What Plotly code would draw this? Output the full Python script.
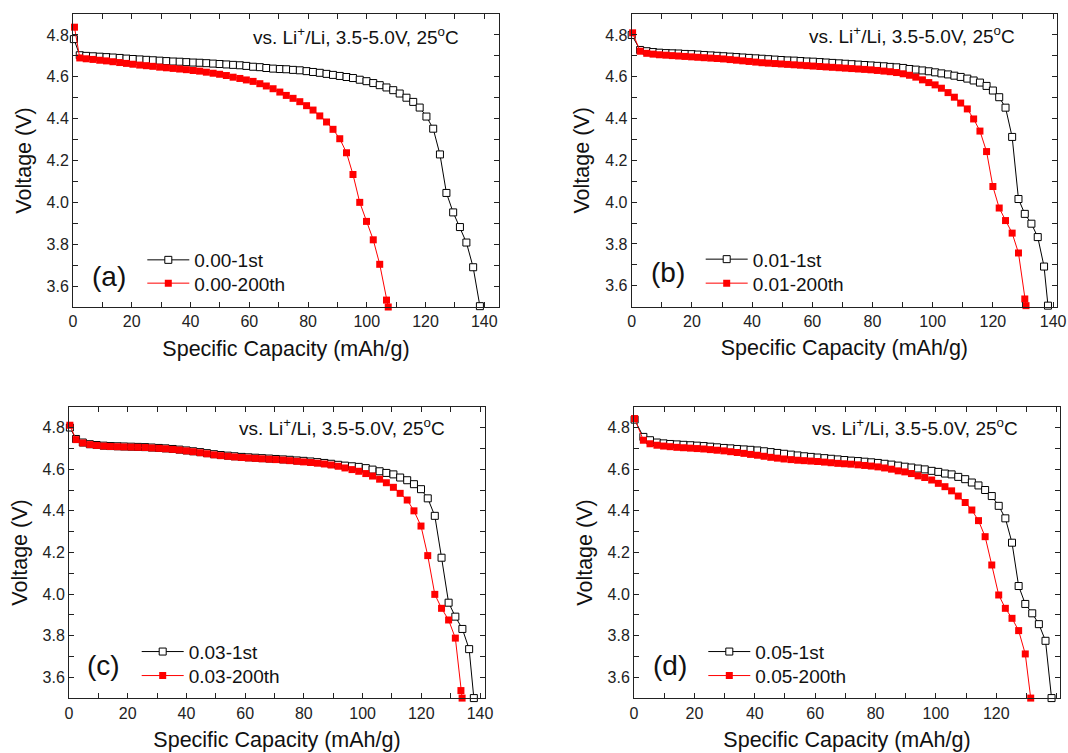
import plotly.graph_objects as go

# ---------------- data ----------------
# (a) x = 0.00
a_1st_x = [0.3, 2.3, 4.5, 6.8, 9.1, 11.4, 13.6, 15.9, 18.2, 20.4, 22.7, 25.0, 27.2, 29.5, 31.8, 34.1, 36.3, 38.6, 40.9, 43.1,
           45.4, 47.7, 49.9, 52.2, 54.5, 56.8, 59.0, 61.3, 63.6, 65.8, 68.1, 70.4, 72.6, 74.9, 77.2, 79.5, 81.7, 84.0, 86.3, 88.5,
           90.8, 93.1, 95.3, 97.6, 99.9, 102.2, 104.4, 106.7, 109.0, 111.2, 113.5, 115.8, 118.0, 120.3, 122.6, 124.9, 127.1,
           129.4, 131.7, 133.9, 136.2, 138.5]
a_1st_y = [4.780, 4.703, 4.700, 4.698, 4.696, 4.694, 4.692, 4.690, 4.687, 4.685, 4.683, 4.681, 4.679, 4.677, 4.675, 4.673,
           4.672, 4.670, 4.668, 4.667, 4.665, 4.663, 4.661, 4.659, 4.657, 4.655, 4.652, 4.648, 4.646, 4.642, 4.639, 4.637,
           4.636, 4.633, 4.631, 4.627, 4.623, 4.619, 4.614, 4.609, 4.604, 4.599, 4.594, 4.586, 4.579, 4.570, 4.560, 4.549,
           4.536, 4.520, 4.500, 4.480, 4.453, 4.410, 4.352, 4.229, 4.045, 3.952, 3.882, 3.808, 3.690, 3.504]
a_200_x = [0.5, 2.3, 4.5, 6.8, 9.1, 11.4, 13.6, 15.9, 18.2, 20.4, 22.7, 25.0, 27.2, 29.5, 31.8, 34.1, 36.3, 38.6, 40.9, 43.1,
           45.4, 47.7, 49.9, 52.2, 54.5, 56.8, 59.0, 61.3, 63.6, 65.8, 68.1, 70.4, 72.6, 74.9, 77.2, 79.5, 81.7, 84.0, 86.3, 88.5,
           90.8, 93.1, 95.3, 97.6, 99.9, 102.2, 104.4, 106.7, 107.3]
a_200_y = [4.837, 4.690, 4.686, 4.683, 4.679, 4.676, 4.672, 4.668, 4.664, 4.660, 4.656, 4.653, 4.650, 4.646, 4.643, 4.640,
           4.637, 4.634, 4.630, 4.627, 4.622, 4.617, 4.612, 4.606, 4.598, 4.592, 4.585, 4.578, 4.567, 4.556, 4.543, 4.527,
           4.511, 4.497, 4.481, 4.462, 4.441, 4.413, 4.384, 4.349, 4.304, 4.237, 4.133, 4.000, 3.909, 3.821, 3.704, 3.533, 3.500]

# (b) x = 0.01
b_1st_x = [0.0, 2.8, 5.0, 7.1, 9.2, 11.4, 13.5, 15.6, 17.7, 19.9, 22.0, 24.1, 26.3, 28.4, 30.5, 32.7, 34.8, 36.9, 39.0, 41.2,
           43.3, 45.4, 47.6, 49.7, 51.8, 54.0, 56.1, 58.2, 60.3, 62.5, 64.6, 66.7, 68.9, 71.0, 73.1, 75.3, 77.4, 79.5, 81.6, 83.8,
           85.9, 88.0, 90.2, 92.3, 94.4, 96.6, 98.7, 100.8, 102.9, 105.1, 107.2, 109.3, 111.5, 113.6, 115.7, 117.9, 120.0,
           122.1, 124.2, 126.4, 128.5, 130.6, 132.8, 134.9, 137.0, 138.3]
b_1st_y = [4.800, 4.728, 4.722, 4.718, 4.715, 4.713, 4.712, 4.711, 4.709, 4.708, 4.706, 4.704, 4.702, 4.700, 4.698, 4.696,
           4.694, 4.692, 4.690, 4.688, 4.686, 4.684, 4.682, 4.680, 4.678, 4.677, 4.675, 4.673, 4.672, 4.670, 4.668, 4.666,
           4.664, 4.662, 4.660, 4.658, 4.656, 4.654, 4.652, 4.650, 4.647, 4.645, 4.642, 4.637, 4.634, 4.630, 4.626, 4.621,
           4.616, 4.611, 4.605, 4.599, 4.591, 4.582, 4.572, 4.556, 4.534, 4.502, 4.452, 4.312, 4.015, 3.944, 3.897, 3.833,
           3.692, 3.505]
b_200_x = [0.3, 2.8, 5.0, 7.1, 9.2, 11.4, 13.5, 15.6, 17.7, 19.9, 22.0, 24.1, 26.3, 28.4, 30.5, 32.7, 34.8, 36.9, 39.0, 41.2,
           43.3, 45.4, 47.6, 49.7, 51.8, 54.0, 56.1, 58.2, 60.3, 62.5, 64.6, 66.7, 68.9, 71.0, 73.1, 75.3, 77.4, 79.5, 81.6, 83.8,
           85.9, 88.0, 90.2, 92.3, 94.4, 96.6, 98.7, 100.8, 102.9, 105.1, 107.2, 109.3, 111.5, 113.6, 115.7, 117.9, 120.0,
           122.1, 124.2, 126.4, 128.5, 130.6, 131.0]
b_200_y = [4.810, 4.722, 4.712, 4.708, 4.705, 4.703, 4.701, 4.699, 4.697, 4.695, 4.693, 4.691, 4.689, 4.687, 4.685, 4.682,
           4.679, 4.676, 4.673, 4.670, 4.667, 4.665, 4.663, 4.661, 4.659, 4.657, 4.655, 4.653, 4.651, 4.649, 4.647, 4.645,
           4.643, 4.641, 4.639, 4.637, 4.635, 4.633, 4.630, 4.627, 4.624, 4.620, 4.614, 4.607, 4.598, 4.585, 4.572, 4.561,
           4.545, 4.524, 4.502, 4.474, 4.446, 4.398, 4.340, 4.242, 4.075, 3.972, 3.912, 3.852, 3.757, 3.537, 3.505]

# (c) x = 0.03
c_1st_x = [0.3, 2.4, 4.7, 7.1, 9.4, 11.8, 14.1, 16.5, 18.8, 21.2, 23.5, 25.9, 28.2, 30.6, 32.9, 35.3, 37.6, 40.0, 42.3, 44.7,
           47.0, 49.4, 51.7, 54.1, 56.4, 58.8, 61.1, 63.5, 65.8, 68.2, 70.5, 72.9, 75.2, 77.6, 79.9, 82.3, 84.6, 87.0, 89.3, 91.7,
           94.0, 96.4, 98.7, 101.1, 103.4, 105.8, 108.1, 110.5, 112.8, 115.2, 117.5, 119.9, 122.2, 124.6, 126.9, 129.3, 131.6,
           134.0, 136.3, 137.9]
c_1st_y = [4.800, 4.745, 4.728, 4.720, 4.716, 4.713, 4.711, 4.710, 4.709, 4.708, 4.707, 4.706, 4.704, 4.702, 4.700, 4.697,
           4.694, 4.690, 4.686, 4.682, 4.677, 4.672, 4.668, 4.665, 4.662, 4.659, 4.657, 4.655, 4.653, 4.651, 4.649, 4.647,
           4.645, 4.642, 4.640, 4.637, 4.634, 4.630, 4.626, 4.621, 4.617, 4.614, 4.611, 4.605, 4.598, 4.590, 4.582, 4.575,
           4.560, 4.547, 4.528, 4.504, 4.460, 4.376, 4.175, 3.959, 3.892, 3.833, 3.736, 3.501]
c_200_x = [0.3, 2.4, 4.7, 7.1, 9.4, 11.8, 14.1, 16.5, 18.8, 21.2, 23.5, 25.9, 28.2, 30.6, 32.9, 35.3, 37.6, 40.0, 42.3, 44.7,
           47.0, 49.4, 51.7, 54.1, 56.4, 58.8, 61.1, 63.5, 65.8, 68.2, 70.5, 72.9, 75.2, 77.6, 79.9, 82.3, 84.6, 87.0, 89.3, 91.7,
           94.0, 96.4, 98.7, 101.1, 103.4, 105.8, 108.1, 110.5, 112.8, 115.2, 117.5, 119.9, 122.2, 124.6, 126.9, 129.3, 131.6,
           133.5, 133.9]
c_200_y = [4.811, 4.742, 4.726, 4.718, 4.714, 4.711, 4.709, 4.708, 4.707, 4.706, 4.705, 4.704, 4.702, 4.700, 4.698, 4.695,
           4.692, 4.688, 4.684, 4.679, 4.674, 4.669, 4.665, 4.662, 4.659, 4.656, 4.654, 4.652, 4.650, 4.648, 4.646, 4.644,
           4.641, 4.638, 4.635, 4.632, 4.629, 4.625, 4.620, 4.614, 4.606, 4.598, 4.590, 4.579, 4.567, 4.552, 4.535, 4.513,
           4.484, 4.452, 4.400, 4.327, 4.185, 3.999, 3.932, 3.876, 3.789, 3.537, 3.501]

# (d) x = 0.05
d_1st_x = [0.2, 3.1, 5.3, 7.6, 9.8, 12.0, 14.2, 16.4, 18.7, 20.9, 23.1, 25.3, 27.5, 29.8, 32.0, 34.2, 36.4, 38.6, 40.9, 43.1,
           45.3, 47.5, 49.7, 52.0, 54.2, 56.4, 58.6, 60.8, 63.1, 65.3, 67.5, 69.7, 71.9, 74.2, 76.4, 78.6, 80.8, 83.0, 85.3, 87.5,
           89.7, 91.9, 94.1, 96.3, 98.6, 100.8, 103.0, 105.2, 107.4, 109.7, 111.9, 114.1, 116.3, 118.5, 120.8, 123.0, 125.2,
           127.4, 129.6, 131.9, 134.1, 136.3, 138.3]
d_1st_y = [4.838, 4.755, 4.739, 4.728, 4.724, 4.721, 4.719, 4.717, 4.715, 4.713, 4.711, 4.708, 4.705, 4.702, 4.700, 4.697,
           4.695, 4.693, 4.690, 4.686, 4.682, 4.678, 4.674, 4.670, 4.666, 4.662, 4.659, 4.656, 4.653, 4.650, 4.647, 4.644,
           4.641, 4.639, 4.636, 4.633, 4.630, 4.626, 4.622, 4.617, 4.612, 4.608, 4.603, 4.599, 4.592, 4.587, 4.579, 4.575,
           4.563, 4.552, 4.536, 4.522, 4.500, 4.471, 4.424, 4.364, 4.247, 4.039, 3.953, 3.908, 3.856, 3.776, 3.501]
d_200_x = [0.2, 3.1, 5.3, 7.6, 9.8, 12.0, 14.2, 16.4, 18.7, 20.9, 23.1, 25.3, 27.5, 29.8, 32.0, 34.2, 36.4, 38.6, 40.9, 43.1,
           45.3, 47.5, 49.7, 52.0, 54.2, 56.4, 58.6, 60.8, 63.1, 65.3, 67.5, 69.7, 71.9, 74.2, 76.4, 78.6, 80.8, 83.0, 85.3, 87.5,
           89.7, 91.9, 94.1, 96.3, 98.6, 100.8, 103.0, 105.2, 107.4, 109.7, 111.9, 114.1, 116.3, 118.5, 120.8, 123.0, 125.2,
           127.4, 129.6, 131.4]
d_200_y = [4.843, 4.739, 4.722, 4.715, 4.711, 4.708, 4.705, 4.703, 4.701, 4.699, 4.697, 4.694, 4.691, 4.688, 4.684, 4.680,
           4.676, 4.671, 4.667, 4.662, 4.657, 4.653, 4.649, 4.646, 4.643, 4.641, 4.639, 4.637, 4.634, 4.631, 4.628, 4.626,
           4.624, 4.621, 4.618, 4.615, 4.611, 4.606, 4.600, 4.592, 4.587, 4.579, 4.568, 4.560, 4.548, 4.532, 4.516, 4.496,
           4.471, 4.440, 4.404, 4.353, 4.276, 4.140, 3.996, 3.932, 3.884, 3.825, 3.713, 3.501]

panel_tags = ["(a)", "(b)", "(c)", "(d)"]
compositions = ["0.00", "0.01", "0.03", "0.05"]
condition_text = "vs. Li<sup>+</sup>/Li, 3.5-5.0V, 25<sup>o</sup>C"
x_title = "Specific Capacity (mAh/g)"
y_title = "Voltage (V)"

# ---------------- layout geometry (pixels) ----------------
W, H = 1068, 753
FONT = "Liberation Sans, Arial, Helvetica, sans-serif"
AX = "#222222"

# plot-area boxes: (left, right, top, bottom) in px, and x-range max
boxes = [(73, 499, 14, 307, 145.0),
         (631.7, 1057, 14, 306.7, 141.3),
         (69, 485, 406.7, 698.3, 141.7),
         (634, 1060, 406.7, 698.3, 141.1)]
# legend anchor (line start x px, row centre y px for 1st and 200th)
leg_pos = [(147.3, 260, 283.3), (705.7, 259.3, 283.3), (141.7, 651.7, 675.7), (708.3, 651.7, 675.7)]
tag_pos = [(109, 276), (667.5, 272), (103, 665), (670, 665)]
cond_pos = [(461, 36), (1017, 35), (447, 427.3), (1020, 427.3)]

def px2x(p):
    return p / W

def py2y(p):
    return 1 - p / H

series = [(a_1st_x, a_1st_y, a_200_x, a_200_y),
          (b_1st_x, b_1st_y, b_200_x, b_200_y),
          (c_1st_x, c_1st_y, c_200_x, c_200_y),
          (d_1st_x, d_1st_y, d_200_x, d_200_y)]

fig = go.Figure()
layout = dict(width=W, height=H, margin=dict(l=0, r=0, t=0, b=0),
              paper_bgcolor="white", plot_bgcolor="white",
              font=dict(family=FONT, color="#111111"), showlegend=True)
annotations = []

for i, (x1, y1, x2, y2) in enumerate(series):
    n = "" if i == 0 else str(i + 1)
    xa, ya = "x" + n, "y" + n
    leg1 = "legend" if i == 0 else "legend" + str(2 * i + 1)
    leg2 = "legend" + str(2 * i + 2)
    fig.add_trace(go.Scatter(x=x1, y=y1, xaxis=xa, yaxis=ya, mode="lines+markers",
                             name=compositions[i] + "-1st", legend=leg1, cliponaxis=False,
                             line=dict(color="black", width=1),
                             marker=dict(symbol="square", size=7, color="white",
                                         line=dict(color="black", width=1))))
    fig.add_trace(go.Scatter(x=x2, y=y2, xaxis=xa, yaxis=ya, mode="lines+markers",
                             name=compositions[i] + "-200th", legend=leg2, cliponaxis=False,
                             line=dict(color="#ff0000", width=1),
                             marker=dict(symbol="square", size=7, color="#ff0000",
                                         line=dict(color="#ff0000", width=0))))
    l, r, t, b, xmax = boxes[i]
    layout["xaxis" + n] = dict(domain=[px2x(l), px2x(r)], anchor=ya, range=[0, xmax],
                               showline=True, linecolor=AX, linewidth=1, mirror="allticks",
                               ticks="inside", ticklen=5, tickcolor=AX, tick0=0, dtick=20,
                               minor=dict(dtick=10, ticks="inside", ticklen=5, tickcolor=AX),
                               showgrid=False, zeroline=False,
                               tickfont=dict(size=16, color=AX, family=FONT),
                               title=dict(text=x_title, font=dict(size=21.5, color="#111111", family=FONT),
                                          standoff=11),
                               automargin=False)
    layout["yaxis" + n] = dict(domain=[py2y(b), py2y(t)], anchor=xa, range=[3.5, 4.9],
                               showline=True, linecolor=AX, linewidth=1, mirror="allticks",
                               ticks="inside", ticklen=5, tickcolor=AX, tick0=3.6, dtick=0.2,
                               tickformat=".1f",
                               minor=dict(dtick=0.1, ticks="inside", ticklen=5, tickcolor=AX),
                               showgrid=False, zeroline=False,
                               tickfont=dict(size=16, color=AX, family=FONT),
                               title=dict(text=y_title, font=dict(size=21.5, color="#111111", family=FONT),
                                          standoff=9),
                               automargin=False)
    lx, ly1, ly2 = leg_pos[i]
    for lg, ly in ((leg1, ly1), (leg2, ly2)):
        layout[lg] = dict(x=px2x(lx - 5), y=py2y(ly), xanchor="left", yanchor="middle",
                          bgcolor="rgba(0,0,0,0)", borderwidth=0, itemwidth=42,
                          font=dict(size=19, color="#111111", family=FONT))
    tx, ty = tag_pos[i]
    annotations.append(dict(text=panel_tags[i], x=px2x(tx), y=py2y(ty), xref="paper", yref="paper",
                            xanchor="center", yanchor="middle", showarrow=False,
                            font=dict(size=28, color="#111111", family=FONT)))
    cx, cy = cond_pos[i]
    annotations.append(dict(text=condition_text, x=px2x(cx), y=py2y(cy), xref="paper", yref="paper",
                            xanchor="right", yanchor="middle", showarrow=False,
                            font=dict(size=19, color="#111111", family=FONT)))

layout["annotations"] = annotations
fig.update_layout(**layout)
fig.write_html("out.html")
